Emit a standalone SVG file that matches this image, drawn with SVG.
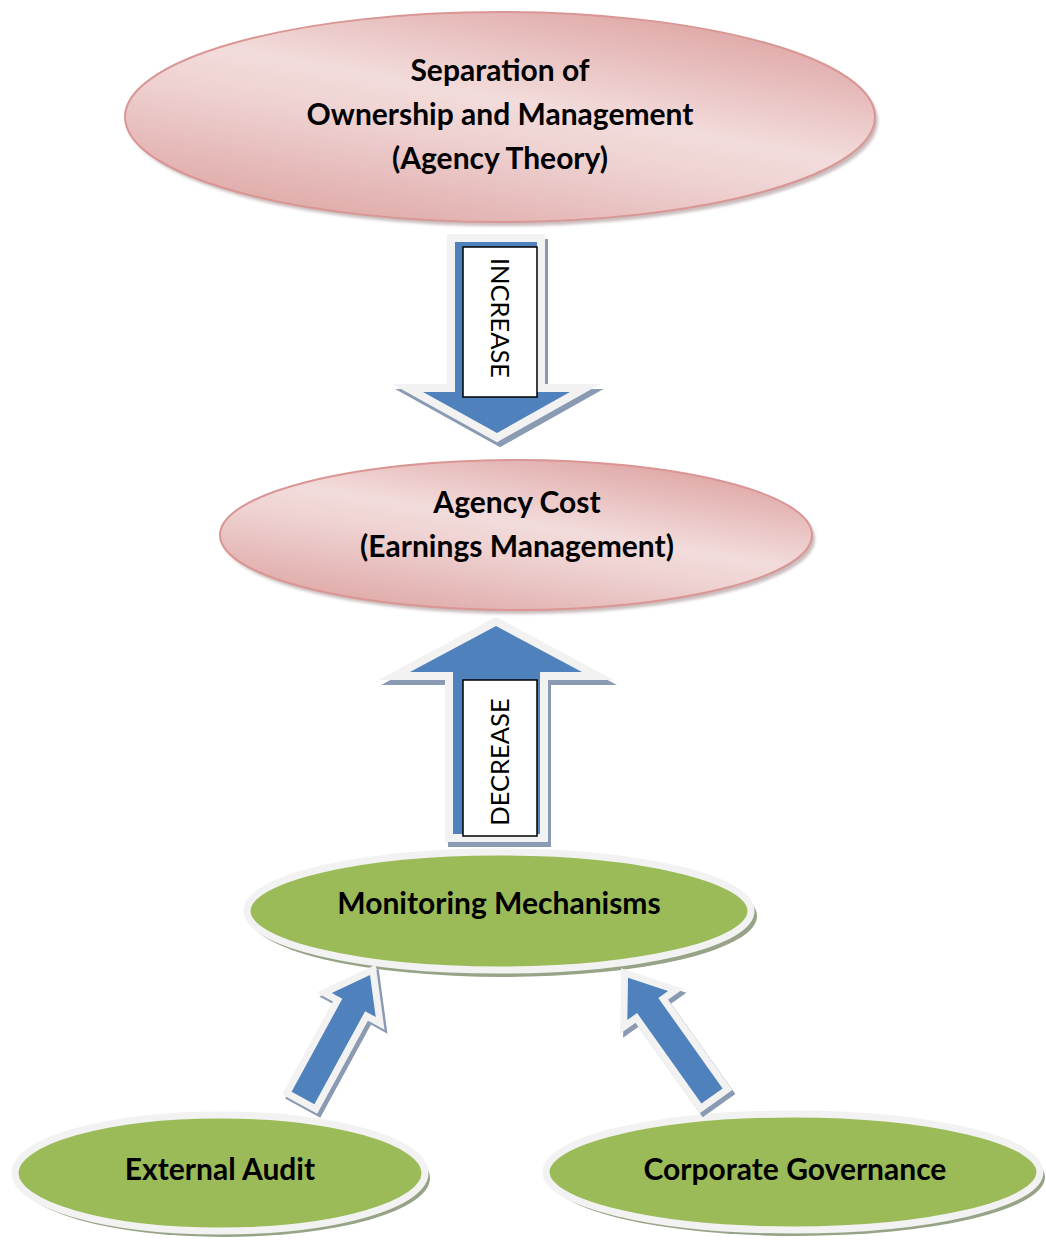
<svg xmlns="http://www.w3.org/2000/svg" width="1046" height="1241" viewBox="0 0 1046 1241">
  <style>
    .lbl { font-family: Lato, "Open Sans", "Liberation Sans", sans-serif; font-weight: bold; font-size: 30px; fill: #000; text-anchor: middle; }
    .vlbl { font-family: Lato, "Open Sans", "Liberation Sans", sans-serif; font-size: 25.5px; fill: #000; text-anchor: middle; }
    .pink { stroke: #d99694; stroke-width: 2; }
    .green { fill: #9bbb59; stroke: #f2f2f2; stroke-width: 7; }
    .gshadow { fill: #97a386; }
    .pshadow { fill: #8a6a6a; opacity: 0.45; }
    .rim { fill: #f2f2f2; stroke: #f2f2f2; stroke-width: 16; stroke-linejoin: miter; stroke-miterlimit: 10; }
    .ashadow { fill: #8a9ab2; stroke: #8a9ab2; stroke-width: 16; stroke-linejoin: miter; stroke-miterlimit: 10; }
    .rim2 { fill: #f2f2f2; stroke: #f2f2f2; stroke-width: 14; stroke-linejoin: miter; stroke-miterlimit: 10; }
    .ashadow2 { fill: #8a9ab2; stroke: #8a9ab2; stroke-width: 14; stroke-linejoin: miter; stroke-miterlimit: 10; }
    .blue { fill: #4f81bd; }
    .box { fill: #fff; stroke: #000; stroke-width: 1.5; }
  </style>
  <defs>
    <linearGradient id="pinkGrad" x1="0.85" y1="0" x2="0.2" y2="1">
      <stop offset="0" stop-color="#dc9f9e"/>
      <stop offset="0.45" stop-color="#f2dcdb"/>
      <stop offset="0.6" stop-color="#eed2d1"/>
      <stop offset="1" stop-color="#dea6a5"/>
    </linearGradient>
    <filter id="blur" x="-10%" y="-10%" width="120%" height="120%">
      <feGaussianBlur stdDeviation="1.5"/>
    </filter>
  </defs>

  <g id="node-separation">
    <ellipse class="pshadow" cx="503" cy="121" rx="375" ry="105" filter="url(#blur)"/>
    <ellipse class="pink" cx="500" cy="117" rx="375" ry="105" fill="url(#pinkGrad)"/>
    <text class="lbl" x="500" y="81">Separation of</text>
    <text class="lbl" x="500" y="125">Ownership and Management</text>
    <text class="lbl" x="500" y="169">(Agency Theory)</text>
  </g>

  <g id="node-agency-cost">
    <ellipse class="pshadow" cx="519" cy="539" rx="296" ry="75" filter="url(#blur)"/>
    <ellipse class="pink" cx="516" cy="535" rx="296" ry="75" fill="url(#pinkGrad)"/>
    <text class="lbl" x="517" y="513">Agency Cost</text>
    <text class="lbl" x="517" y="557">(Earnings Management)</text>
  </g>

  <g id="node-monitoring">
    <ellipse class="gshadow" cx="503" cy="916" rx="254" ry="61"/>
    <ellipse class="green" cx="499" cy="911" rx="252" ry="59"/>
    <text class="lbl" x="499" y="914">Monitoring Mechanisms</text>
  </g>

  <g id="node-external-audit">
    <ellipse class="gshadow" cx="224" cy="1178" rx="206" ry="59"/>
    <ellipse class="green" cx="220" cy="1173" rx="205" ry="58"/>
    <text class="lbl" x="220" y="1180">External Audit</text>
  </g>

  <g id="node-corporate-governance">
    <ellipse class="gshadow" cx="797" cy="1177" rx="248" ry="59"/>
    <ellipse class="green" cx="793" cy="1172" rx="247" ry="58"/>
    <text class="lbl" x="795" y="1180">Corporate Governance</text>
  </g>

  <g id="connectors">
    <g id="arrow-increase">
      <polygon class="ashadow" transform="translate(3,5)" points="455,242 537,242 537,392 570,392 497,433 423,392 455,392"/>
      <polygon class="rim" points="455,242 537,242 537,392 570,392 497,433 423,392 455,392"/>
      <polygon class="blue" points="455,242 537,242 537,392 570,392 497,433 423,392 455,392"/>
      <rect class="box" x="463" y="247" width="74" height="150"/>
      <text class="vlbl" transform="translate(500,318) rotate(90)" dy="9">INCREASE</text>
    </g>
    <g id="arrow-decrease">
      <polygon class="ashadow" transform="translate(3,5)" points="496,626 582,672 540,672 540,834 453,834 453,672 410,672"/>
      <polygon class="rim" points="496,626 582,672 540,672 540,834 453,834 453,672 410,672"/>
      <polygon class="blue" points="496,626 582,672 540,672 540,834 453,834 453,672 410,672"/>
      <rect class="box" x="463" y="680" width="74" height="156"/>
      <text class="vlbl" transform="translate(500,762) rotate(-90)" dy="9">DECREASE</text>
    </g>
    <g id="arrow-audit" transform="translate(303,1098) rotate(-61.4)">
      <polygon class="ashadow2" transform="rotate(61.4) translate(3,4) rotate(-61.4)" points="0,-13 106,-13 106,-25 140,0 106,25 106,13 0,13"/>
      <polygon class="rim2" points="0,-13 106,-13 106,-25 140,0 106,25 106,13 0,13"/>
      <polygon class="blue" points="0,-13 106,-13 106,-25 140,0 106,25 106,13 0,13"/>
    </g>
    <g id="arrow-governance" transform="translate(712,1096) rotate(-125.4)">
      <polygon class="ashadow2" transform="rotate(125.4) translate(3,4) rotate(-125.4)" points="0,-13 111,-13 111,-25 145,0 111,25 111,13 0,13"/>
      <polygon class="rim2" points="0,-13 111,-13 111,-25 145,0 111,25 111,13 0,13"/>
      <polygon class="blue" points="0,-13 111,-13 111,-25 145,0 111,25 111,13 0,13"/>
    </g>
  </g>
</svg>
